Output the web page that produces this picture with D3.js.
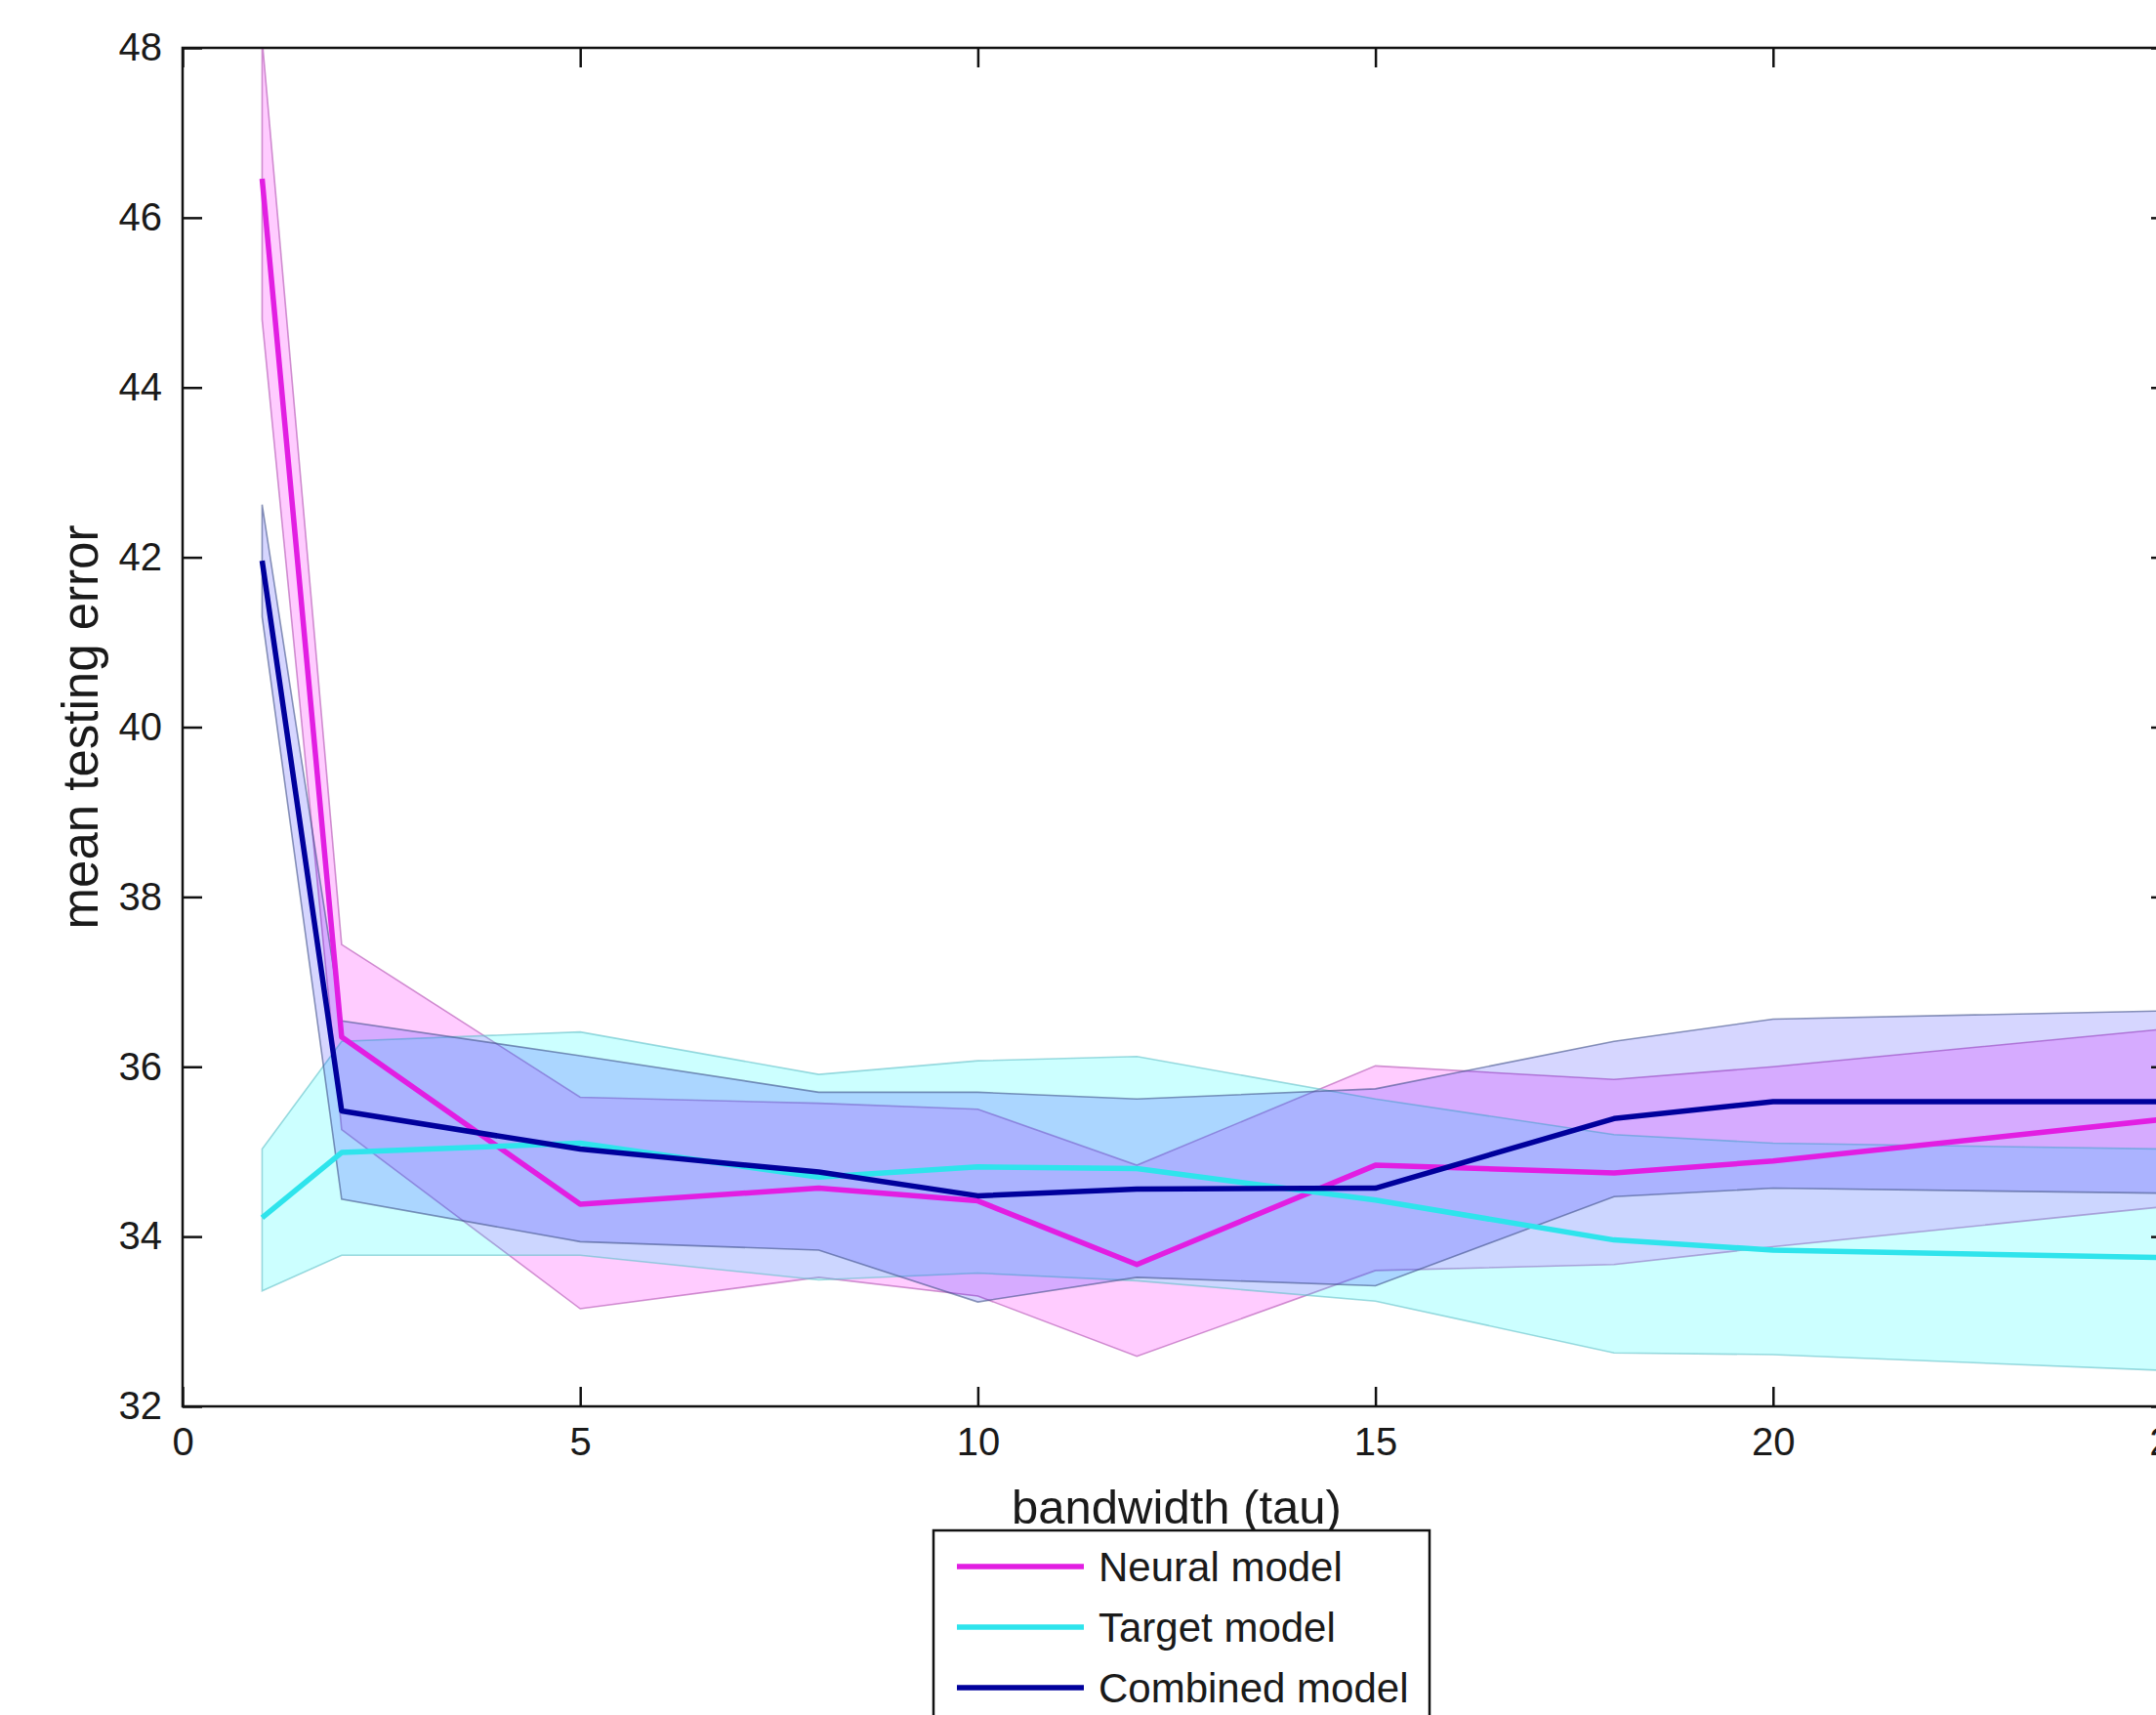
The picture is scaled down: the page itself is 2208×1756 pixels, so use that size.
<!DOCTYPE html>
<html lang="en">
<head>
<meta charset="UTF-8">
<title>mean testing error vs bandwidth</title>
<script src="https://d3js.org/d3.v7.min.js"></script>
<style>
html, body { margin: 0; padding: 0; background: #fff; }
svg text { font-family: "Liberation Sans", Arial, sans-serif; fill: #1a1a1a; }
</style>
</head>
<body>
<div id="chart"></div>
<script>
// values
var tau = [1, 2, 5, 8, 10, 12, 15, 18, 20, 25];

var neuralMean  = [46.46, 36.35, 34.38, 34.57, 34.42, 33.67, 34.84, 34.75, 34.89, 35.39];
var neuralUpper = [48.10, 37.44, 35.64, 35.57, 35.50, 34.84, 36.01, 35.85, 36.00, 36.45];
var neuralLower = [44.80, 35.26, 33.15, 33.52, 33.30, 32.59, 33.60, 33.67, 33.88, 34.36];

var targetMean  = [34.22, 34.99, 35.10, 34.70, 34.82, 34.80, 34.43, 33.96, 33.84, 33.75];
var targetUpper = [35.03, 36.30, 36.41, 35.91, 36.07, 36.12, 35.62, 35.20, 35.10, 35.03];
var targetLower = [33.36, 33.78, 33.78, 33.49, 33.57, 33.48, 33.24, 32.63, 32.61, 32.42];

var combinedMean  = [41.96, 35.48, 35.03, 34.76, 34.48, 34.56, 34.57, 35.39, 35.59, 35.59];
var combinedUpper = [42.62, 36.54, 36.13, 35.70, 35.70, 35.62, 35.74, 36.30, 36.56, 36.66];
var combinedLower = [41.30, 34.44, 33.94, 33.84, 33.23, 33.52, 33.42, 34.47, 34.57, 34.51];

var xTicks = [0, 5, 10, 15, 20, 25];
var yTicks = [32, 34, 36, 38, 40, 42, 44, 46, 48];
var seriesNames = ["Neural model", "Target model", "Combined model"];

// set the dimensions and margins of the graph
var W = 2208, H = 1756;
var margin = {top: 49, left: 187},
    width = 2036,
    height = 1391;

var svg = d3.select("#chart")
  .append("svg")
    .attr("width", W)
    .attr("height", H)
  .append("g")
    .attr("transform", "translate(" + margin.left + "," + margin.top + ")");

var x = d3.scaleLinear().domain([0, 25]).range([0, width]);
var y = d3.scaleLinear().domain([32, 48]).range([height, 0]);

svg.append("clipPath").attr("id", "plotclip")
  .append("rect").attr("width", width).attr("height", height);

var series = [
  {name: seriesNames[0], mean: neuralMean, up: neuralUpper, lo: neuralLower,
   line: "#e21ee2", fill: "#ff00ff", fillOp: 0.2, edge: "#b050b0"},
  {name: seriesNames[1], mean: targetMean, up: targetUpper, lo: targetLower,
   line: "#2ee4ec", fill: "#00ffff", fillOp: 0.2, edge: "#60c0c8"},
  {name: seriesNames[2], mean: combinedMean, up: combinedUpper, lo: combinedLower,
   line: "#00009c", fill: "#0000ff", fillOp: 0.16, edge: "#405088"}
];

var plot = svg.append("g").attr("clip-path", "url(#plotclip)");

// shaded bands
series.forEach(function(s) {
  var pts = tau.map(function(t, i) { return {t: t, up: s.up[i], lo: s.lo[i]}; });
  plot.append("path")
    .datum(pts)
    .attr("fill", s.fill)
    .attr("fill-opacity", s.fillOp)
    .attr("stroke", s.edge)
    .attr("stroke-opacity", 0.6)
    .attr("stroke-width", 1.6)
    .attr("d", d3.area()
      .x(function(d) { return x(d.t); })
      .y0(function(d) { return y(d.lo); })
      .y1(function(d) { return y(d.up); }));
});

// mean lines
series.forEach(function(s) {
  var pts = tau.map(function(t, i) { return [t, s.mean[i]]; });
  plot.append("path")
    .datum(pts)
    .attr("fill", "none")
    .attr("stroke", s.line)
    .attr("stroke-width", 5.5)
    .attr("stroke-linejoin", "round")
    .attr("d", d3.line()
      .x(function(d) { return x(d[0]); })
      .y(function(d) { return y(d[1]); }));
});

// axes with inward ticks on all four sides
var fs = 40;
var gx = svg.append("g")
  .attr("transform", "translate(0," + height + ")")
  .call(d3.axisBottom(x).tickValues(xTicks).tickSize(-20).tickPadding(22).tickFormat(d3.format("d")));
var gy = svg.append("g")
  .call(d3.axisLeft(y).tickValues(yTicks).tickSize(-20).tickPadding(21).tickFormat(d3.format("d")));
var gt = svg.append("g")
  .call(d3.axisTop(x).tickValues(xTicks).tickSize(-20).tickFormat(""));
var gr = svg.append("g")
  .attr("transform", "translate(" + width + ",0)")
  .call(d3.axisRight(y).tickValues(yTicks).tickSize(-20).tickFormat(""));

[gx, gy, gt, gr].forEach(function(g) {
  g.select(".domain").remove();
  g.selectAll(".tick line").attr("stroke", "#111").attr("stroke-width", 2.5);
  g.selectAll(".tick text")
    .attr("font-size", fs)
    .attr("font-family", "Liberation Sans, Arial, sans-serif")
    .attr("fill", "#1a1a1a");
});

svg.append("rect")
  .attr("width", width)
  .attr("height", height)
  .attr("fill", "none")
  .attr("stroke", "#111")
  .attr("stroke-width", 2.5);

// axis labels
svg.append("text")
  .attr("x", x(12.5))
  .attr("y", 1560 - margin.top)
  .attr("text-anchor", "middle")
  .attr("font-size", 49)
  .text("bandwidth (tau)");

svg.append("text")
  .attr("transform", "translate(" + (82 - margin.left) + "," + y(40) + ") rotate(-90)")
  .attr("text-anchor", "middle")
  .attr("dy", "0.35em")
  .attr("font-size", 51)
  .text("mean testing error");

// legend
var legend = d3.select("svg").append("g");
legend.append("rect")
  .attr("x", 956)
  .attr("y", 1567)
  .attr("width", 508)
  .attr("height", 230)
  .attr("fill", "#fff")
  .attr("stroke", "#111")
  .attr("stroke-width", 2.5);

series.forEach(function(s, i) {
  var ly = 1604 + i * 62;
  legend.append("line")
    .attr("x1", 980).attr("x2", 1110)
    .attr("y1", ly).attr("y2", ly)
    .attr("stroke", s.line)
    .attr("stroke-width", 5.5);
  legend.append("text")
    .attr("x", 1125)
    .attr("y", ly)
    .attr("dy", "0.36em")
    .attr("font-size", 42)
    .text(s.name);
});
</script>
</body>
</html>
